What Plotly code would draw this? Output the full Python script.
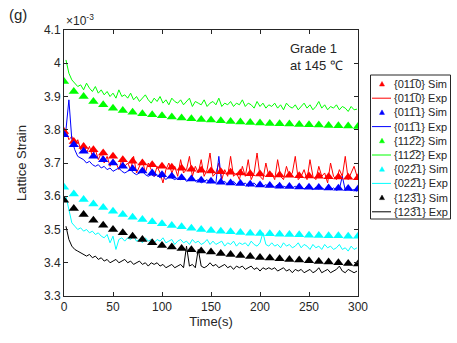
import plotly.graph_objects as go

# simulation, every 10 s
sim_time = list(range(0, 310, 10))
sim_0110 = [3.795, 3.765, 3.75, 3.74, 3.73, 3.72, 3.71, 3.705, 3.70, 3.695, 3.69,
            3.687, 3.684, 3.681, 3.678, 3.676, 3.674, 3.672, 3.67, 3.668, 3.667,
            3.665, 3.664, 3.663, 3.662, 3.661, 3.66, 3.659, 3.658, 3.657, 3.656]
sim_0111 = [3.785, 3.755, 3.735, 3.72, 3.71, 3.70, 3.69, 3.683, 3.676, 3.67, 3.665,
            3.66, 3.656, 3.652, 3.648, 3.645, 3.642, 3.64, 3.638, 3.636, 3.634,
            3.632, 3.63, 3.629, 3.628, 3.627, 3.626, 3.625, 3.624, 3.623, 3.622]
sim_1122 = [3.945, 3.915, 3.90, 3.885, 3.875, 3.865, 3.858, 3.853, 3.848, 3.845, 3.842,
            3.838, 3.835, 3.833, 3.831, 3.829, 3.827, 3.825, 3.823, 3.822, 3.82,
            3.819, 3.818, 3.817, 3.816, 3.815, 3.814, 3.813, 3.812, 3.811, 3.81]
sim_0221 = [3.627, 3.607, 3.59, 3.577, 3.566, 3.555, 3.545, 3.537, 3.53, 3.523, 3.517,
            3.512, 3.508, 3.504, 3.50, 3.497, 3.495, 3.493, 3.491, 3.489, 3.488,
            3.487, 3.486, 3.485, 3.484, 3.483, 3.482, 3.481, 3.481, 3.48, 3.48]
sim_1231 = [3.588, 3.563, 3.545, 3.528, 3.513, 3.50, 3.49, 3.48, 3.47, 3.46, 3.452,
            3.447, 3.443, 3.439, 3.435, 3.432, 3.428, 3.425, 3.422, 3.419, 3.416,
            3.414, 3.412, 3.41, 3.408, 3.406, 3.404, 3.402, 3.40, 3.398, 3.396]

# experiment, every 3 s
exp_time = list(range(2, 302, 3))
exp_0110 = [3.80, 3.77, 3.78, 3.75, 3.77, 3.74, 3.76, 3.73, 3.75, 3.72,
            3.74, 3.71, 3.73, 3.70, 3.72, 3.69, 3.71, 3.70, 3.68, 3.71,
            3.69, 3.70, 3.68, 3.72, 3.67, 3.69, 3.71, 3.67, 3.70, 3.68,
            3.66, 3.69, 3.67, 3.64, 3.68, 3.70, 3.67, 3.69, 3.66, 3.71,
            3.67, 3.68, 3.72, 3.66, 3.69, 3.67, 3.71, 3.66, 3.68, 3.73,
            3.66, 3.67, 3.70, 3.65, 3.68, 3.66, 3.72, 3.66, 3.67, 3.65,
            3.69, 3.66, 3.71, 3.65, 3.67, 3.73, 3.66, 3.65, 3.70, 3.66,
            3.67, 3.65, 3.71, 3.66, 3.65, 3.69, 3.66, 3.67, 3.72, 3.65,
            3.66, 3.68, 3.65, 3.71, 3.66, 3.65, 3.69, 3.66, 3.67, 3.64,
            3.70, 3.66, 3.65, 3.68, 3.66, 3.72, 3.65, 3.67, 3.69, 3.66]
exp_0111 = [3.80, 3.89, 3.77, 3.74, 3.72, 3.715, 3.71, 3.70, 3.705, 3.695,
            3.69, 3.695, 3.685, 3.69, 3.68, 3.685, 3.675, 3.68, 3.685, 3.675,
            3.67, 3.675, 3.68, 3.67, 3.665, 3.67, 3.675, 3.665, 3.66, 3.665,
            3.66, 3.665, 3.655, 3.66, 3.65, 3.66, 3.655, 3.65, 3.655, 3.65,
            3.655, 3.645, 3.65, 3.655, 3.645, 3.65, 3.64, 3.645, 3.65, 3.64,
            3.645, 3.64, 3.72, 3.64, 3.645, 3.635, 3.64, 3.645, 3.635, 3.64,
            3.635, 3.64, 3.63, 3.635, 3.64, 3.63, 3.635, 3.63, 3.635, 3.628,
            3.632, 3.628, 3.635, 3.625, 3.63, 3.627, 3.632, 3.625, 3.63, 3.624,
            3.628, 3.622, 3.63, 3.625, 3.62, 3.627, 3.622, 3.626, 3.62, 3.624,
            3.62, 3.625, 3.618, 3.622, 3.66, 3.618, 3.622, 3.617, 3.62, 3.615]
exp_1122 = [4.01, 3.97, 3.95, 3.94, 3.93, 3.935, 3.92, 3.94, 3.925, 3.915,
            3.93, 3.91, 3.92, 3.905, 3.915, 3.90, 3.91, 3.895, 3.92, 3.90,
            3.905, 3.895, 3.91, 3.89, 3.90, 3.885, 3.895, 3.905, 3.89, 3.88,
            3.895, 3.885, 3.90, 3.88, 3.89, 3.875, 3.895, 3.885, 3.88, 3.89,
            3.875, 3.885, 3.895, 3.87, 3.885, 3.88, 3.875, 3.89, 3.87, 3.88,
            3.885, 3.875, 3.895, 3.87, 3.88, 3.875, 3.885, 3.87, 3.88, 3.875,
            3.89, 3.87, 3.88, 3.875, 3.865, 3.885, 3.87, 3.88, 3.865, 3.875,
            3.87, 3.88, 3.865, 3.875, 3.86, 3.88, 3.87, 3.865, 3.875, 3.86,
            3.87, 3.88, 3.865, 3.875, 3.86, 3.87, 3.885, 3.865, 3.875, 3.86,
            3.87, 3.865, 3.875, 3.86, 3.87, 3.865, 3.855, 3.87, 3.86, 3.862]
exp_0221 = [3.60, 3.56, 3.52, 3.51, 3.50, 3.505, 3.495, 3.50, 3.49, 3.495,
            3.485, 3.49, 3.48, 3.475, 3.485, 3.46, 3.48, 3.44, 3.47, 3.475,
            3.465, 3.475, 3.47, 3.48, 3.465, 3.47, 3.46, 3.475, 3.465, 3.47,
            3.46, 3.47, 3.465, 3.475, 3.46, 3.465, 3.47, 3.455, 3.465, 3.47,
            3.46, 3.465, 3.455, 3.47, 3.46, 3.465, 3.455, 3.46, 3.47, 3.455,
            3.465, 3.455, 3.46, 3.465, 3.45, 3.46, 3.455, 3.465, 3.45, 3.46,
            3.455, 3.46, 3.45, 3.465, 3.455, 3.45, 3.46, 3.49, 3.455, 3.45,
            3.46, 3.45, 3.455, 3.445, 3.46, 3.45, 3.455, 3.445, 3.45, 3.46,
            3.445, 3.455, 3.45, 3.44, 3.455, 3.445, 3.45, 3.44, 3.455, 3.445,
            3.45, 3.44, 3.445, 3.455, 3.44, 3.445, 3.435, 3.45, 3.44, 3.445]
exp_1231 = [3.51, 3.47, 3.45, 3.44, 3.435, 3.43, 3.425, 3.42, 3.425, 3.415,
            3.42, 3.41, 3.415, 3.405, 3.41, 3.40, 3.405, 3.41, 3.40, 3.405,
            3.41, 3.40, 3.405, 3.395, 3.40, 3.405, 3.395, 3.40, 3.39, 3.40,
            3.395, 3.40, 3.39, 3.395, 3.385, 3.39, 3.395, 3.385, 3.39, 3.395,
            3.385, 3.45, 3.39, 3.395, 3.385, 3.44, 3.39, 3.385, 3.39, 3.40,
            3.39, 3.395, 3.385, 3.39, 3.395, 3.385, 3.39, 3.38, 3.39, 3.385,
            3.39, 3.38, 3.385, 3.39, 3.38, 3.385, 3.375, 3.385, 3.38, 3.385,
            3.38, 3.385, 3.375, 3.38, 3.385, 3.375, 3.38, 3.37, 3.38, 3.375,
            3.38, 3.37, 3.375, 3.38, 3.37, 3.375, 3.385, 3.37, 3.375, 3.38,
            3.37, 3.375, 3.38, 3.39, 3.375, 3.37, 3.38, 3.375, 3.37, 3.375]

labels = ["{011\u03050}", "{011\u03051}", "{112\u03052}", "{022\u03051}", "{123\u03051}"]
colors = ["#ff0000", "#0000ff", "#00ff00", "#00ffff", "#000000"]
sims = [sim_0110, sim_0111, sim_1122, sim_0221, sim_1231]
exps = [exp_0110, exp_0111, exp_1122, exp_0221, exp_1231]

y_ticks = [3.3, 3.4, 3.5, 3.6, 3.7, 3.8, 3.9, 4.0, 4.1]
y_ticktext = ["3.3", "3.4", "3.5", "3.6", "3.7", "3.8", "3.9", "4", "4.1"]

W, H = 457, 343
ML, MR, MT, MB = 64, 99, 30, 47
PW, PH = W - ML - MR, H - MT - MB


def px(x):
    return (x - ML) / PW


def py(y):
    return 1 - (y - MT) / PH


fig = go.Figure()
for i in range(5):
    fig.add_trace(go.Scatter(x=exp_time, y=exps[i], mode="lines", showlegend=False,
                             line=dict(color=colors[i], width=1)))
for i in range(5):
    fig.add_trace(go.Scatter(x=sim_time, y=sims[i], mode="markers", showlegend=False,
                             marker=dict(symbol="triangle-up", size=9, color=colors[i])))

axis_style = dict(showgrid=False, zeroline=False, showline=True, linecolor="#262626",
                  linewidth=1, mirror="ticks", ticks="inside", ticklen=4, tickcolor="#262626",
                  tickfont=dict(size=12, color="#262626"))

fig.update_xaxes(range=[0, 300], tickvals=[0, 50, 100, 150, 200, 250, 300],
                 title=dict(text="Time(s)", font=dict(size=13, color="#262626"), standoff=2),
                 **axis_style)
fig.update_yaxes(range=[3.3, 4.1], tickvals=y_ticks, ticktext=y_ticktext,
                 title=dict(text="Lattice Strain", font=dict(size=13, color="#262626"), standoff=14),
                 **axis_style)

# hand-built legend box (Plotly's own legend rows are too tall here)
shapes = [dict(type="rect", xref="paper", yref="paper", x0=px(370.5), x1=px(450.5),
               y0=py(219), y1=py(75), line=dict(color="#262626", width=1), fillcolor="white")]
annotations = []
row_h = 14.2
for i in range(5):
    for j, kind in enumerate(["Sim", "Exp"]):
        yc = 84 + row_h * (2 * i + j)
        if kind == "Sim":
            shapes.append(dict(type="path", xref="paper", yref="paper", fillcolor=colors[i],
                               line=dict(color=colors[i], width=0.5),
                               path="M %f,%f L %f,%f L %f,%f Z" % (
                                   px(379.5), py(yc + 2), px(384.5), py(yc + 2),
                                   px(382), py(yc - 2.5))))
        else:
            shapes.append(dict(type="line", xref="paper", yref="paper",
                               x0=px(372), x1=px(391), y0=py(yc), y1=py(yc),
                               line=dict(color=colors[i], width=1)))
        annotations.append(dict(text=labels[i] + " " + kind, xref="paper", yref="paper",
                                x=px(392), y=py(yc), xanchor="left", yanchor="middle",
                                showarrow=False, font=dict(size=11, color="#262626")))

annotations += [
    dict(text="(g)", xref="paper", yref="paper", x=px(7), y=py(15), xanchor="left",
         yanchor="middle", showarrow=False, font=dict(size=15, color="#262626")),
    dict(text="\u00d710<sup>-3</sup>", xref="paper", yref="paper", x=0.0, y=1.0,
         xanchor="left", yanchor="bottom", showarrow=False, font=dict(size=12)),
    dict(text="Grade 1<br>at 145 \u2103", xref="paper", yref="paper", x=px(288), y=py(57),
         xanchor="left", yanchor="middle", showarrow=False, align="left",
         font=dict(size=13, color="#262626")),
]

fig.update_layout(
    width=W, height=H,
    margin=dict(l=ML, r=MR, t=MT, b=MB, autoexpand=False),
    paper_bgcolor="white", plot_bgcolor="white",
    font=dict(family="Liberation Sans, Arial", color="#262626"),
    showlegend=False,
    shapes=shapes,
    annotations=annotations,
)

fig.write_html("out.html", config={"displayModeBar": False},
               post_script="document.body.style.margin='0';")
